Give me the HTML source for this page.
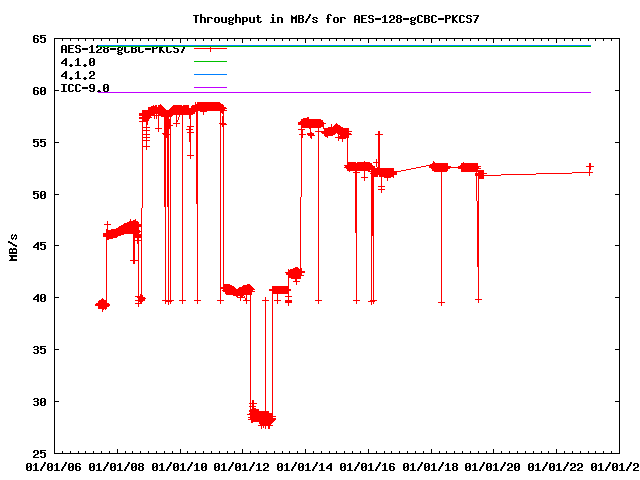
<!DOCTYPE html>
<html><head><meta charset="utf-8"><title>Throughput in MB/s for AES-128-gCBC-PKCS7</title>
<style>html,body{margin:0;padding:0;background:#fff;font-family:"Liberation Sans",sans-serif;}svg{display:block}</style>
</head><body><svg role="img" aria-label="Throughput in MB/s for AES-128-gCBC-PKCS7" width="640" height="480" viewBox="0 0 640 480" shape-rendering="crispEdges"><path fill="#000000" d="M8 241h2v2h-2zM9 249h1v5h-1zM9 255h8v1h-8zM9 260h8v1h-8zM10 242h2v2h-2zM10 248h2v2h-2zM10 252h7v2h-7zM10 256h7v1h-7zM10 259h7v1h-7zM11 235h1v4h-1zM11 257h2v2h-2zM12 234h1v2h-1zM12 238h1v2h-1zM12 243h1v2h-1zM12 249h1v3h-1zM13 237h1v2h-1zM13 244h2v2h-2zM13 248h3v2h-3zM14 235h1v2h-1zM15 234h1v2h-1zM15 238h1v2h-1zM15 245h2v2h-2zM16 235h1v4h-1zM16 249h1v3h-1zM26 464h2v6h-2zM27 463h4v1h-4zM27 470h4v1h-4zM28 467h1v1h-1zM29 466h3v1h-3zM30 464h2v2h-2zM30 467h2v3h-2zM33 36h2v6h-2zM33 88h2v6h-2zM33 139h2v4h-2zM33 145h2v1h-2zM33 191h2v4h-2zM33 197h2v1h-2zM33 246h2v2h-2zM33 298h2v2h-2zM33 347h2v1h-2zM33 352h2v1h-2zM33 399h2v1h-2zM33 404h2v1h-2zM33 451h2v2h-2zM33 456h2v2h-2zM33 465h1v1h-1zM33 470h6v1h-6zM34 35h4v1h-4zM34 42h4v1h-4zM34 87h4v1h-4zM34 94h4v1h-4zM34 146h4v1h-4zM34 198h4v1h-4zM34 245h2v1h-2zM34 297h2v1h-2zM34 346h4v1h-4zM34 349h4v1h-4zM34 353h4v1h-4zM34 398h4v1h-4zM34 401h4v1h-4zM34 405h4v1h-4zM34 450h4v1h-4zM34 455h2v1h-2zM34 464h3v1h-3zM35 38h3v1h-3zM35 90h3v1h-3zM35 139h4v1h-4zM35 141h3v1h-3zM35 191h4v1h-4zM35 193h3v1h-3zM35 244h4v1h-4zM35 247h4v1h-4zM35 296h4v1h-4zM35 299h4v1h-4zM35 454h3v1h-3zM35 457h4v1h-4zM35 463h2v1h-2zM35 465h2v5h-2zM36 243h3v1h-3zM36 295h3v1h-3zM37 36h2v1h-2zM37 39h2v3h-2zM37 88h2v1h-2zM37 91h2v3h-2zM37 142h2v4h-2zM37 194h2v4h-2zM37 242h2v1h-2zM37 245h2v2h-2zM37 248h2v2h-2zM37 294h2v1h-2zM37 297h2v2h-2zM37 300h2v2h-2zM37 347h2v2h-2zM37 350h2v3h-2zM37 399h2v2h-2zM37 402h2v3h-2zM37 451h2v3h-2zM40 35h2v4h-2zM40 41h2v1h-2zM40 88h2v6h-2zM40 139h2v4h-2zM40 145h2v1h-2zM40 192h2v6h-2zM40 242h2v4h-2zM40 248h2v1h-2zM40 295h2v6h-2zM40 346h2v4h-2zM40 352h2v1h-2zM40 399h2v6h-2zM40 450h2v4h-2zM40 456h2v1h-2zM40 469h2v2h-2zM41 42h4v1h-4zM41 87h4v1h-4zM41 94h4v1h-4zM41 146h4v1h-4zM41 191h4v1h-4zM41 198h4v1h-4zM41 249h4v1h-4zM41 294h4v1h-4zM41 301h4v1h-4zM41 353h4v1h-4zM41 398h4v1h-4zM41 405h4v1h-4zM41 457h4v1h-4zM41 467h2v2h-2zM42 35h4v1h-4zM42 37h3v1h-3zM42 91h1v1h-1zM42 139h4v1h-4zM42 141h3v1h-3zM42 195h1v1h-1zM42 242h4v1h-4zM42 244h3v1h-3zM42 298h1v1h-1zM42 346h4v1h-4zM42 348h3v1h-3zM42 402h1v1h-1zM42 450h4v1h-4zM42 452h3v1h-3zM42 466h2v1h-2zM43 90h3v1h-3zM43 194h3v1h-3zM43 297h3v1h-3zM43 401h3v1h-3zM43 464h2v2h-2zM44 38h2v4h-2zM44 88h2v2h-2zM44 91h2v3h-2zM44 142h2v4h-2zM44 192h2v2h-2zM44 195h2v3h-2zM44 245h2v4h-2zM44 295h2v2h-2zM44 298h2v3h-2zM44 349h2v4h-2zM44 399h2v2h-2zM44 402h2v3h-2zM44 453h2v4h-2zM44 462h2v2h-2zM47 464h2v6h-2zM48 463h4v1h-4zM48 470h4v1h-4zM49 467h1v1h-1zM50 466h3v1h-3zM51 464h2v2h-2zM51 467h2v3h-2zM54 38h1v416h-1zM54 465h1v1h-1zM54 470h6v1h-6zM55 38h565v1h-565zM55 90h4v1h-4zM55 142h4v1h-4zM55 194h4v1h-4zM55 245h4v1h-4zM55 297h4v1h-4zM55 349h4v1h-4zM55 401h4v1h-4zM55 453h565v1h-565zM55 464h3v1h-3zM56 463h2v1h-2zM56 465h2v5h-2zM61 46h2v7h-2zM61 62h2v2h-2zM61 75h2v2h-2zM61 84h6v1h-6zM61 91h6v1h-6zM61 469h2v2h-2zM62 39h1v2h-1zM62 45h4v1h-4zM62 61h2v1h-2zM62 74h2v1h-2zM62 451h1v2h-1zM62 467h2v2h-2zM63 49h4v1h-4zM63 60h4v1h-4zM63 63h4v1h-4zM63 73h4v1h-4zM63 76h4v1h-4zM63 85h2v6h-2zM63 466h2v1h-2zM64 59h3v1h-3zM64 72h3v1h-3zM64 464h2v2h-2zM65 46h2v3h-2zM65 50h2v3h-2zM65 58h2v1h-2zM65 61h2v2h-2zM65 64h2v2h-2zM65 71h2v1h-2zM65 74h2v2h-2zM65 77h2v2h-2zM65 462h2v2h-2zM68 45h2v8h-2zM68 85h2v6h-2zM68 464h2v6h-2zM69 65h4v1h-4zM69 78h4v1h-4zM69 84h4v1h-4zM69 91h4v1h-4zM69 463h4v1h-4zM69 470h4v1h-4zM70 39h1v2h-1zM70 45h4v1h-4zM70 48h3v1h-3zM70 52h4v1h-4zM70 64h2v1h-2zM70 66h2v1h-2zM70 77h2v1h-2zM70 79h2v1h-2zM70 451h1v2h-1zM70 467h1v1h-1zM71 466h3v1h-3zM72 85h2v1h-2zM72 90h2v1h-2zM72 464h2v2h-2zM72 467h2v3h-2zM75 46h2v2h-2zM75 51h2v1h-2zM75 60h1v1h-1zM75 65h6v1h-6zM75 73h1v1h-1zM75 78h6v1h-6zM75 85h2v6h-2zM75 464h2v6h-2zM76 45h4v1h-4zM76 48h4v1h-4zM76 52h4v1h-4zM76 59h3v1h-3zM76 72h3v1h-3zM76 84h4v1h-4zM76 91h4v1h-4zM76 463h4v1h-4zM76 470h4v1h-4zM77 58h2v1h-2zM77 60h2v5h-2zM77 71h2v1h-2zM77 73h2v5h-2zM77 466h3v1h-3zM78 39h1v2h-1zM78 451h1v2h-1zM79 46h2v1h-2zM79 49h2v3h-2zM79 85h2v1h-2zM79 90h2v1h-2zM79 464h2v1h-2zM79 467h2v3h-2zM82 48h6v2h-6zM82 87h6v2h-6zM83 65h4v1h-4zM83 78h4v1h-4zM84 64h2v1h-2zM84 66h2v1h-2zM84 77h2v1h-2zM84 79h2v1h-2zM85 39h1v2h-1zM85 451h1v2h-1zM89 47h1v1h-1zM89 52h6v1h-6zM89 59h2v6h-2zM89 72h2v2h-2zM89 77h2v2h-2zM89 85h2v3h-2zM89 90h2v1h-2zM89 464h2v6h-2zM90 46h3v1h-3zM90 58h4v1h-4zM90 65h4v1h-4zM90 71h4v1h-4zM90 76h2v1h-2zM90 84h4v1h-4zM90 88h5v1h-5zM90 91h4v1h-4zM90 463h4v1h-4zM90 470h4v1h-4zM91 45h2v1h-2zM91 47h2v5h-2zM91 62h1v1h-1zM91 75h3v1h-3zM91 78h4v1h-4zM91 467h1v1h-1zM92 61h3v1h-3zM92 466h3v1h-3zM93 39h1v2h-1zM93 59h2v2h-2zM93 62h2v3h-2zM93 72h2v3h-2zM93 85h2v3h-2zM93 89h2v2h-2zM93 451h1v2h-1zM93 464h2v2h-2zM93 467h2v3h-2zM96 46h2v2h-2zM96 51h2v2h-2zM96 465h1v1h-1zM96 470h6v1h-6zM97 45h1v1h-1zM97 50h2v1h-2zM97 91h4v1h-4zM97 464h3v1h-3zM98 49h3v1h-3zM98 52h4v1h-4zM98 90h2v1h-2zM98 463h2v1h-2zM98 465h2v5h-2zM100 47h2v2h-2zM101 39h1v2h-1zM101 451h1v2h-1zM103 47h2v1h-2zM103 49h2v3h-2zM103 85h2v6h-2zM103 469h2v2h-2zM104 48h4v1h-4zM104 52h4v1h-4zM104 84h4v1h-4zM104 91h4v1h-4zM104 467h2v2h-2zM105 88h1v1h-1zM105 466h2v1h-2zM106 87h3v1h-3zM106 464h2v2h-2zM107 47h2v1h-2zM107 49h2v3h-2zM107 85h2v2h-2zM107 88h2v3h-2zM107 462h2v2h-2zM109 39h1v2h-1zM109 451h1v2h-1zM110 48h6v2h-6zM110 464h2v6h-2zM111 463h4v1h-4zM111 470h4v1h-4zM112 467h1v1h-1zM113 466h3v1h-3zM114 464h2v2h-2zM114 467h2v3h-2zM117 39h1v4h-1zM117 48h2v2h-2zM117 51h2v1h-2zM117 53h2v1h-2zM117 449h1v4h-1zM117 465h1v1h-1zM117 470h6v1h-6zM118 47h3v1h-3zM118 50h4v1h-4zM118 52h4v1h-4zM118 54h4v1h-4zM118 464h3v1h-3zM119 463h2v1h-2zM119 465h2v5h-2zM121 48h2v2h-2zM121 53h2v1h-2zM122 47h1v1h-1zM124 47h2v5h-2zM124 469h2v2h-2zM125 39h1v2h-1zM125 52h4v1h-4zM125 451h1v2h-1zM125 467h2v2h-2zM126 466h2v1h-2zM127 464h2v2h-2zM128 51h2v1h-2zM128 462h2v2h-2zM131 47h2v6h-2zM131 464h2v6h-2zM132 39h1v2h-1zM132 451h1v2h-1zM132 463h4v1h-4zM132 470h4v1h-4zM133 48h3v1h-3zM133 52h3v1h-3zM133 467h1v1h-1zM134 466h3v1h-3zM135 47h2v1h-2zM135 49h2v3h-2zM135 464h2v2h-2zM135 467h2v3h-2zM138 47h2v5h-2zM138 464h2v2h-2zM138 467h2v3h-2zM139 52h4v1h-4zM139 463h4v1h-4zM139 466h4v1h-4zM139 470h4v1h-4zM140 39h1v2h-1zM140 451h1v2h-1zM142 51h2v1h-2zM142 464h2v2h-2zM142 467h2v3h-2zM145 48h6v2h-6zM148 39h1v2h-1zM148 451h1v2h-1zM152 47h2v6h-2zM152 464h2v6h-2zM153 463h4v1h-4zM153 470h4v1h-4zM154 48h3v1h-3zM154 467h1v1h-1zM155 466h3v1h-3zM156 39h1v2h-1zM156 47h2v1h-2zM156 451h1v2h-1zM156 464h2v2h-2zM156 467h2v3h-2zM159 47h2v6h-2zM159 465h1v1h-1zM159 470h6v1h-6zM160 464h3v1h-3zM161 47h1v4h-1zM161 463h2v1h-2zM161 465h2v5h-2zM162 47h1v1h-1zM162 50h1v2h-1zM163 51h1v2h-1zM164 39h1v2h-1zM164 52h1v1h-1zM164 451h1v2h-1zM166 47h2v5h-2zM166 469h2v2h-2zM167 52h4v1h-4zM167 467h2v2h-2zM168 466h2v1h-2zM169 464h2v2h-2zM170 51h2v1h-2zM170 462h2v2h-2zM172 39h1v2h-1zM172 451h1v2h-1zM173 47h2v1h-2zM173 51h2v1h-2zM173 464h2v6h-2zM174 48h4v1h-4zM174 52h4v1h-4zM174 463h4v1h-4zM174 470h4v1h-4zM175 467h1v1h-1zM176 466h3v1h-3zM177 49h2v3h-2zM177 464h2v2h-2zM177 467h2v3h-2zM180 39h1v4h-1zM180 449h1v4h-1zM180 465h1v1h-1zM180 470h6v1h-6zM181 51h2v2h-2zM181 464h3v1h-3zM182 49h2v2h-2zM182 463h2v1h-2zM182 465h2v5h-2zM183 47h2v2h-2zM187 39h1v2h-1zM187 451h1v2h-1zM187 469h2v2h-2zM188 467h2v2h-2zM189 466h2v1h-2zM190 464h2v2h-2zM191 462h2v2h-2zM193 15h6v1h-6zM194 465h1v1h-1zM194 470h6v1h-6zM195 16h2v7h-2zM195 39h1v2h-1zM195 451h1v2h-1zM195 464h3v1h-3zM196 463h2v1h-2zM196 465h2v5h-2zM200 14h2v9h-2zM201 464h2v6h-2zM202 17h3v1h-3zM202 463h4v1h-4zM202 470h4v1h-4zM203 39h1v2h-1zM203 451h1v2h-1zM203 467h1v1h-1zM204 18h2v5h-2zM204 466h3v1h-3zM205 464h2v2h-2zM205 467h2v3h-2zM207 17h2v6h-2zM209 17h3v1h-3zM211 18h2v1h-2zM211 39h1v2h-1zM211 451h1v2h-1zM214 18h2v4h-2zM214 464h2v6h-2zM215 17h4v1h-4zM215 22h4v1h-4zM215 463h4v1h-4zM215 470h4v1h-4zM216 467h1v1h-1zM217 466h3v1h-3zM218 18h2v4h-2zM218 464h2v2h-2zM218 467h2v3h-2zM219 39h1v2h-1zM219 451h1v2h-1zM221 17h2v5h-2zM221 465h1v1h-1zM221 470h6v1h-6zM222 22h5v1h-5zM222 464h3v1h-3zM223 463h2v1h-2zM223 465h2v5h-2zM225 17h2v5h-2zM227 39h1v2h-1zM227 451h1v2h-1zM228 18h2v2h-2zM228 21h2v1h-2zM228 23h2v1h-2zM228 469h2v2h-2zM229 17h3v1h-3zM229 20h4v1h-4zM229 22h4v1h-4zM229 24h4v1h-4zM229 467h2v2h-2zM230 466h2v1h-2zM231 464h2v2h-2zM232 18h2v2h-2zM232 23h2v1h-2zM232 462h2v2h-2zM233 17h1v1h-1zM234 39h1v2h-1zM234 451h1v2h-1zM235 14h2v9h-2zM235 464h2v6h-2zM236 463h4v1h-4zM236 470h4v1h-4zM237 17h3v1h-3zM237 467h1v1h-1zM238 466h3v1h-3zM239 18h2v5h-2zM239 464h2v2h-2zM239 467h2v3h-2zM242 17h2v8h-2zM242 39h1v4h-1zM242 449h1v4h-1zM242 465h1v1h-1zM242 470h6v1h-6zM243 464h3v1h-3zM244 17h3v1h-3zM244 21h3v1h-3zM244 463h2v1h-2zM244 465h2v5h-2zM246 18h2v3h-2zM249 17h2v5h-2zM249 469h2v2h-2zM250 22h5v1h-5zM250 39h1v2h-1zM250 451h1v2h-1zM250 467h2v2h-2zM251 466h2v1h-2zM252 464h2v2h-2zM253 17h2v5h-2zM253 462h2v2h-2zM256 17h5v1h-5zM256 465h1v1h-1zM256 470h6v1h-6zM257 15h2v2h-2zM257 18h2v4h-2zM257 464h3v1h-3zM258 22h3v1h-3zM258 39h1v2h-1zM258 451h1v2h-1zM258 463h2v1h-2zM258 465h2v5h-2zM260 21h2v1h-2zM263 464h2v2h-2zM263 469h2v2h-2zM264 463h4v1h-4zM264 468h2v1h-2zM265 467h3v1h-3zM265 470h4v1h-4zM266 39h1v2h-1zM266 451h1v2h-1zM267 464h2v3h-2zM270 22h6v1h-6zM271 17h3v1h-3zM272 14h2v2h-2zM272 18h2v4h-2zM274 39h1v2h-1zM274 451h1v2h-1zM277 17h2v6h-2zM277 464h2v6h-2zM278 463h4v1h-4zM278 470h4v1h-4zM279 17h3v1h-3zM279 467h1v1h-1zM280 466h3v1h-3zM281 18h2v5h-2zM281 464h2v2h-2zM281 467h2v3h-2zM282 39h1v2h-1zM282 451h1v2h-1zM284 465h1v1h-1zM284 470h6v1h-6zM285 464h3v1h-3zM286 463h2v1h-2zM286 465h2v5h-2zM289 39h1v2h-1zM289 451h1v2h-1zM291 15h1v8h-1zM291 469h2v2h-2zM292 16h1v7h-1zM292 467h2v2h-2zM293 17h4v2h-4zM293 466h2v1h-2zM294 464h2v2h-2zM295 16h2v1h-2zM295 19h2v4h-2zM295 462h2v2h-2zM296 15h1v1h-1zM297 39h1v2h-1zM297 451h1v2h-1zM298 15h2v8h-2zM298 464h2v6h-2zM299 463h4v1h-4zM299 470h4v1h-4zM300 15h3v1h-3zM300 18h3v1h-3zM300 22h3v1h-3zM300 467h1v1h-1zM301 466h3v1h-3zM302 16h2v2h-2zM302 19h2v3h-2zM302 464h2v2h-2zM302 467h2v3h-2zM305 21h2v2h-2zM305 39h1v4h-1zM305 449h1v4h-1zM305 465h1v1h-1zM305 470h6v1h-6zM306 19h2v2h-2zM306 464h3v1h-3zM307 18h2v1h-2zM307 463h2v1h-2zM307 465h2v5h-2zM308 16h2v2h-2zM309 14h2v2h-2zM312 18h2v1h-2zM312 21h2v1h-2zM312 469h2v2h-2zM313 17h4v1h-4zM313 19h2v1h-2zM313 22h4v1h-4zM313 39h1v2h-1zM313 451h1v2h-1zM313 467h2v2h-2zM314 466h2v1h-2zM315 20h2v1h-2zM315 464h2v2h-2zM316 18h2v1h-2zM316 21h2v1h-2zM316 462h2v2h-2zM319 465h1v1h-1zM319 470h6v1h-6zM320 464h3v1h-3zM321 39h1v2h-1zM321 451h1v2h-1zM321 463h2v1h-2zM321 465h2v5h-2zM326 18h4v1h-4zM326 467h2v2h-2zM327 15h2v3h-2zM327 19h2v4h-2zM327 466h2v1h-2zM328 14h3v1h-3zM328 465h4v1h-4zM328 468h4v1h-4zM329 39h1v2h-1zM329 451h1v2h-1zM329 464h3v1h-3zM330 15h2v1h-2zM330 463h2v1h-2zM330 466h2v2h-2zM330 469h2v2h-2zM333 18h2v4h-2zM334 17h4v1h-4zM334 22h4v1h-4zM336 39h1v2h-1zM336 451h1v2h-1zM337 18h2v4h-2zM340 17h2v6h-2zM340 464h2v6h-2zM341 463h4v1h-4zM341 470h4v1h-4zM342 17h3v1h-3zM342 467h1v1h-1zM343 466h3v1h-3zM344 18h2v1h-2zM344 39h1v2h-1zM344 451h1v2h-1zM344 464h2v2h-2zM344 467h2v3h-2zM347 465h1v1h-1zM347 470h6v1h-6zM348 464h3v1h-3zM349 463h2v1h-2zM349 465h2v5h-2zM352 39h1v2h-1zM352 451h1v2h-1zM354 16h2v7h-2zM354 469h2v2h-2zM355 15h4v1h-4zM355 467h2v2h-2zM356 19h4v1h-4zM356 466h2v1h-2zM357 464h2v2h-2zM358 16h2v3h-2zM358 20h2v3h-2zM358 462h2v2h-2zM360 39h1v2h-1zM360 451h1v2h-1zM361 15h2v8h-2zM361 464h2v6h-2zM362 463h4v1h-4zM362 470h4v1h-4zM363 15h4v1h-4zM363 18h3v1h-3zM363 22h4v1h-4zM363 467h1v1h-1zM364 466h3v1h-3zM365 464h2v2h-2zM365 467h2v3h-2zM368 16h2v2h-2zM368 21h2v1h-2zM368 39h1v4h-1zM368 449h1v4h-1zM368 465h1v1h-1zM368 470h6v1h-6zM369 15h4v1h-4zM369 18h4v1h-4zM369 22h4v1h-4zM369 464h3v1h-3zM370 463h2v1h-2zM370 465h2v5h-2zM372 16h2v1h-2zM372 19h2v3h-2zM375 18h6v2h-6zM375 469h2v2h-2zM376 39h1v2h-1zM376 451h1v2h-1zM376 467h2v2h-2zM377 466h2v1h-2zM378 464h2v2h-2zM379 462h2v2h-2zM382 17h1v1h-1zM382 22h6v1h-6zM382 465h1v1h-1zM382 470h6v1h-6zM383 16h3v1h-3zM383 464h3v1h-3zM384 15h2v1h-2zM384 17h2v5h-2zM384 39h1v2h-1zM384 451h1v2h-1zM384 463h2v1h-2zM384 465h2v5h-2zM389 16h2v2h-2zM389 21h2v2h-2zM389 464h2v6h-2zM390 15h4v1h-4zM390 20h2v1h-2zM390 463h4v1h-4zM390 470h4v1h-4zM391 19h3v1h-3zM391 22h4v1h-4zM391 39h1v2h-1zM391 451h1v2h-1zM391 466h3v1h-3zM393 16h2v3h-2zM393 464h2v1h-2zM393 467h2v3h-2zM396 16h2v2h-2zM396 19h2v3h-2zM397 15h4v1h-4zM397 18h4v1h-4zM397 22h4v1h-4zM399 39h1v2h-1zM399 451h1v2h-1zM400 16h2v2h-2zM400 19h2v3h-2zM403 18h6v2h-6zM403 464h2v6h-2zM404 463h4v1h-4zM404 470h4v1h-4zM405 467h1v1h-1zM406 466h3v1h-3zM407 39h1v2h-1zM407 451h1v2h-1zM407 464h2v2h-2zM407 467h2v3h-2zM410 18h2v2h-2zM410 21h2v1h-2zM410 23h2v1h-2zM410 465h1v1h-1zM410 470h6v1h-6zM411 17h3v1h-3zM411 20h4v1h-4zM411 22h4v1h-4zM411 24h4v1h-4zM411 464h3v1h-3zM412 463h2v1h-2zM412 465h2v5h-2zM414 18h2v2h-2zM414 23h2v1h-2zM415 17h1v1h-1zM415 39h1v2h-1zM415 451h1v2h-1zM417 16h2v6h-2zM417 469h2v2h-2zM418 15h4v1h-4zM418 22h4v1h-4zM418 467h2v2h-2zM419 466h2v1h-2zM420 464h2v2h-2zM421 16h2v1h-2zM421 21h2v1h-2zM421 462h2v2h-2zM423 39h1v2h-1zM423 451h1v2h-1zM424 15h2v8h-2zM424 464h2v6h-2zM425 463h4v1h-4zM425 470h4v1h-4zM426 15h3v1h-3zM426 18h3v1h-3zM426 22h3v1h-3zM426 467h1v1h-1zM427 466h3v1h-3zM428 16h2v2h-2zM428 19h2v3h-2zM428 464h2v2h-2zM428 467h2v3h-2zM431 16h2v6h-2zM431 39h1v4h-1zM431 449h1v4h-1zM431 465h1v1h-1zM431 470h6v1h-6zM432 15h4v1h-4zM432 22h4v1h-4zM432 464h3v1h-3zM433 463h2v1h-2zM433 465h2v5h-2zM435 16h2v1h-2zM435 21h2v1h-2zM438 18h6v2h-6zM438 469h2v2h-2zM439 39h1v2h-1zM439 451h1v2h-1zM439 467h2v2h-2zM440 466h2v1h-2zM441 464h2v2h-2zM442 462h2v2h-2zM445 15h2v8h-2zM445 465h1v1h-1zM445 470h6v1h-6zM446 39h1v2h-1zM446 451h1v2h-1zM446 464h3v1h-3zM447 15h3v1h-3zM447 18h3v1h-3zM447 463h2v1h-2zM447 465h2v5h-2zM449 16h2v2h-2zM452 15h2v8h-2zM452 464h2v2h-2zM452 467h2v3h-2zM453 463h4v1h-4zM453 466h4v1h-4zM453 470h4v1h-4zM454 17h1v4h-1zM454 39h1v2h-1zM454 451h1v2h-1zM455 16h1v2h-1zM455 20h1v2h-1zM456 15h1v2h-1zM456 21h1v2h-1zM456 464h2v2h-2zM456 467h2v3h-2zM457 15h1v1h-1zM457 22h1v1h-1zM459 16h2v6h-2zM460 15h4v1h-4zM460 22h4v1h-4zM462 39h1v2h-1zM462 451h1v2h-1zM463 16h2v1h-2zM463 21h2v1h-2zM465 464h2v6h-2zM466 16h2v2h-2zM466 21h2v1h-2zM466 463h4v1h-4zM466 470h4v1h-4zM467 15h4v1h-4zM467 18h4v1h-4zM467 22h4v1h-4zM467 467h1v1h-1zM468 466h3v1h-3zM469 464h2v2h-2zM469 467h2v3h-2zM470 16h2v1h-2zM470 19h2v3h-2zM470 39h1v2h-1zM470 451h1v2h-1zM472 465h1v1h-1zM472 470h6v1h-6zM473 15h6v1h-6zM473 464h3v1h-3zM474 21h2v2h-2zM474 463h2v1h-2zM474 465h2v5h-2zM475 19h2v2h-2zM476 17h2v2h-2zM477 16h2v1h-2zM478 39h1v2h-1zM478 451h1v2h-1zM479 469h2v2h-2zM480 467h2v2h-2zM481 466h2v1h-2zM482 464h2v2h-2zM483 462h2v2h-2zM486 39h1v2h-1zM486 451h1v2h-1zM486 464h2v6h-2zM487 463h4v1h-4zM487 470h4v1h-4zM488 467h1v1h-1zM489 466h3v1h-3zM490 464h2v2h-2zM490 467h2v3h-2zM493 39h1v4h-1zM493 449h1v4h-1zM493 465h1v1h-1zM493 470h6v1h-6zM494 464h3v1h-3zM495 463h2v1h-2zM495 465h2v5h-2zM500 469h2v2h-2zM501 39h1v2h-1zM501 451h1v2h-1zM501 467h2v2h-2zM502 466h2v1h-2zM503 464h2v2h-2zM504 462h2v2h-2zM507 464h2v2h-2zM507 469h2v2h-2zM508 463h4v1h-4zM508 468h2v1h-2zM509 39h1v2h-1zM509 451h1v2h-1zM509 467h3v1h-3zM509 470h4v1h-4zM511 464h2v3h-2zM514 464h2v6h-2zM515 463h4v1h-4zM515 470h4v1h-4zM516 467h1v1h-1zM517 39h1v2h-1zM517 451h1v2h-1zM517 466h3v1h-3zM518 464h2v2h-2zM518 467h2v3h-2zM525 39h1v2h-1zM525 451h1v2h-1zM528 464h2v6h-2zM529 463h4v1h-4zM529 470h4v1h-4zM530 467h1v1h-1zM531 466h3v1h-3zM532 464h2v2h-2zM532 467h2v3h-2zM533 39h1v2h-1zM533 451h1v2h-1zM535 465h1v1h-1zM535 470h6v1h-6zM536 464h3v1h-3zM537 463h2v1h-2zM537 465h2v5h-2zM541 39h1v2h-1zM541 451h1v2h-1zM542 469h2v2h-2zM543 467h2v2h-2zM544 466h2v1h-2zM545 464h2v2h-2zM546 462h2v2h-2zM548 39h1v2h-1zM548 451h1v2h-1zM549 464h2v6h-2zM550 463h4v1h-4zM550 470h4v1h-4zM551 467h1v1h-1zM552 466h3v1h-3zM553 464h2v2h-2zM553 467h2v3h-2zM556 39h1v4h-1zM556 449h1v4h-1zM556 465h1v1h-1zM556 470h6v1h-6zM557 464h3v1h-3zM558 463h2v1h-2zM558 465h2v5h-2zM563 469h2v2h-2zM564 39h1v2h-1zM564 451h1v2h-1zM564 467h2v2h-2zM565 466h2v1h-2zM566 464h2v2h-2zM567 462h2v2h-2zM570 464h2v2h-2zM570 469h2v2h-2zM571 463h4v1h-4zM571 468h2v1h-2zM572 39h1v2h-1zM572 451h1v2h-1zM572 467h3v1h-3zM572 470h4v1h-4zM574 464h2v3h-2zM577 464h2v2h-2zM577 469h2v2h-2zM578 463h4v1h-4zM578 468h2v1h-2zM579 467h3v1h-3zM579 470h4v1h-4zM580 39h1v2h-1zM580 451h1v2h-1zM581 464h2v3h-2zM588 39h1v2h-1zM588 451h1v2h-1zM591 464h2v6h-2zM592 463h4v1h-4zM592 470h4v1h-4zM593 467h1v1h-1zM594 466h3v1h-3zM595 39h1v2h-1zM595 451h1v2h-1zM595 464h2v2h-2zM595 467h2v3h-2zM598 465h1v1h-1zM598 470h6v1h-6zM599 464h3v1h-3zM600 463h2v1h-2zM600 465h2v5h-2zM603 39h1v2h-1zM603 451h1v2h-1zM605 469h2v2h-2zM606 467h2v2h-2zM607 466h2v1h-2zM608 464h2v2h-2zM609 462h2v2h-2zM611 39h1v2h-1zM611 451h1v2h-1zM612 464h2v6h-2zM613 463h4v1h-4zM613 470h4v1h-4zM614 467h1v1h-1zM615 90h5v1h-5zM615 142h5v1h-5zM615 194h5v1h-5zM615 245h5v1h-5zM615 297h5v1h-5zM615 349h5v1h-5zM615 401h5v1h-5zM615 466h3v1h-3zM616 464h2v2h-2zM616 467h2v3h-2zM619 39h1v51h-1zM619 91h1v51h-1zM619 143h1v51h-1zM619 195h1v50h-1zM619 246h1v51h-1zM619 298h1v51h-1zM619 350h1v51h-1zM619 402h1v51h-1zM619 465h1v1h-1zM619 470h6v1h-6zM620 464h3v1h-3zM621 463h2v1h-2zM621 465h2v5h-2zM626 469h2v2h-2zM627 467h2v2h-2zM628 466h2v1h-2zM629 464h2v2h-2zM630 462h2v2h-2zM633 464h2v2h-2zM633 469h2v2h-2zM634 463h4v1h-4zM634 468h2v1h-2zM635 467h3v1h-3zM635 470h4v1h-4zM637 464h2v3h-2z"/><path fill="#ff0000" d="M210 47h1v5h-1zM194 48h16v1h-16zM211 48h16v1h-16zM195 102h1v10h-1zM197 102h23v9h-23zM220 103h1v201h-1zM160 104h1v12h-1zM196 104h1v100h-1zM221 104h2v9h-2zM153 105h1v11h-1zM155 105h2v9h-2zM158 105h2v11h-2zM161 105h1v12h-1zM173 105h9v10h-9zM183 105h6v10h-6zM192 105h3v9h-3zM223 105h1v187h-1zM151 106h2v10h-2zM154 106h1v13h-1zM162 106h1v11h-1zM172 106h1v10h-1zM182 106h1v198h-1zM191 106h1v9h-1zM148 107h3v11h-3zM157 107h1v7h-1zM163 107h1v10h-1zM171 107h1v10h-1zM224 107h2v2h-2zM164 108h1v99h-1zM170 108h1v196h-1zM189 108h2v11h-2zM226 108h1v1h-1zM165 109h1v195h-1zM169 109h1v8h-1zM224 109h1v2h-1zM142 110h6v12h-6zM166 110h3v28h-3zM225 110h2v1h-2zM197 111h1v193h-1zM200 111h7v1h-7zM203 112h1v3h-1zM139 113h3v3h-3zM222 113h1v1h-1zM156 114h1v5h-1zM192 114h1v1h-1zM155 115h1v1h-1zM157 115h1v1h-1zM176 115h1v12h-1zM179 115h1v2h-1zM158 116h1v16h-1zM222 116h1v11h-1zM139 117h3v2h-3zM151 117h1v1h-1zM178 117h1v3h-1zM307 117h2v11h-2zM148 118h2v1h-2zM303 118h4v10h-4zM148 119h1v2h-1zM169 119h1v10h-1zM190 119h1v40h-1zM301 119h2v9h-2zM309 119h12v9h-12zM177 120h1v2h-1zM321 120h2v7h-2zM139 121h3v1h-3zM300 121h1v4h-1zM142 122h1v86h-1zM146 122h2v3h-2zM298 122h2v3h-2zM323 122h1v7h-1zM173 123h3v1h-3zM177 123h3v1h-3zM219 123h1v1h-1zM221 123h1v2h-1zM224 123h2v2h-2zM324 123h2v1h-2zM336 123h1v10h-1zM226 124h1v1h-1zM331 124h1v12h-1zM335 124h1v10h-1zM337 124h1v10h-1zM146 125h1v25h-1zM171 125h2v1h-2zM334 125h1v10h-1zM338 125h2v10h-2zM187 126h3v1h-3zM191 126h3v1h-3zM333 126h1v9h-1zM340 126h1v13h-1zM143 127h3v1h-3zM147 127h3v1h-3zM189 127h1v15h-1zM328 127h3v9h-3zM332 127h1v9h-1zM341 127h2v12h-2zM155 128h3v1h-3zM159 128h3v1h-3zM301 128h1v69h-1zM309 128h2v1h-2zM318 128h1v176h-1zM324 128h4v8h-4zM343 128h6v10h-6zM186 129h3v1h-3zM191 129h2v1h-2zM298 129h3v1h-3zM302 129h3v1h-3zM310 129h1v9h-1zM143 130h3v1h-3zM147 130h3v1h-3zM302 130h1v8h-1zM315 131h3v1h-3zM319 131h5v1h-5zM349 131h3v1h-3zM378 131h2v44h-2zM187 132h2v1h-2zM191 132h3v1h-3zM311 132h1v7h-1zM321 132h3v1h-3zM162 133h2v1h-2zM307 133h3v2h-3zM312 133h2v3h-2zM322 133h2v1h-2zM349 133h2v2h-2zM143 134h3v1h-3zM147 134h3v1h-3zM163 134h1v1h-1zM169 134h1v1h-1zM299 134h2v1h-2zM303 134h3v1h-3zM351 134h1v1h-1zM375 134h3v1h-3zM380 134h3v1h-3zM308 135h2v1h-2zM314 135h1v1h-1zM338 135h1v6h-1zM325 136h3v1h-3zM339 136h1v3h-1zM143 137h3v1h-3zM147 137h3v1h-3zM327 137h1v1h-1zM335 137h3v1h-3zM167 138h2v69h-2zM343 138h3v1h-3zM347 138h1v33h-1zM342 139h1v3h-1zM143 140h3v1h-3zM147 140h3v1h-3zM143 146h3v1h-3zM147 146h3v1h-3zM187 155h3v1h-3zM191 155h3v1h-3zM376 159h1v8h-1zM364 161h1v20h-1zM433 161h1v10h-1zM348 162h8v9h-8zM357 162h7v9h-7zM365 162h5v9h-5zM373 162h3v1h-3zM377 162h1v1h-1zM434 162h1v10h-1zM463 162h1v10h-1zM356 163h1v141h-1zM370 163h2v7h-2zM432 163h1v8h-1zM435 163h13v8h-13zM461 163h2v9h-2zM464 163h14v9h-14zM589 163h2v7h-2zM430 164h2v4h-2zM344 165h3v1h-3zM372 165h1v71h-1zM426 165h4v1h-4zM460 165h1v4h-1zM345 166h2v2h-2zM373 166h2v11h-2zM421 166h5v1h-5zM429 166h1v2h-1zM448 166h3v2h-3zM458 166h2v3h-2zM478 166h3v1h-3zM586 166h3v1h-3zM591 166h3v1h-3zM344 167h1v1h-1zM377 167h1v10h-1zM416 167h5v1h-5zM451 167h7v1h-7zM478 167h1v2h-1zM346 168h1v1h-1zM375 168h2v9h-2zM380 168h14v9h-14zM411 168h5v1h-5zM431 168h1v1h-1zM448 168h2v1h-2zM479 168h2v1h-2zM406 169h5v1h-5zM371 170h1v135h-1zM401 170h5v1h-5zM478 170h6v9h-6zM589 170h1v6h-1zM349 171h1v1h-1zM355 171h1v62h-1zM368 171h3v1h-3zM394 171h7v1h-7zM435 171h12v1h-12zM353 172h2v1h-2zM357 172h3v1h-3zM394 172h3v3h-3zM441 172h1v134h-1zM476 172h1v29h-1zM572 172h17v1h-17zM590 172h3v1h-3zM370 173h1v1h-1zM475 173h1v3h-1zM477 173h1v3h-1zM484 173h3v1h-3zM536 173h36v1h-36zM501 174h35v1h-35zM379 175h1v2h-1zM484 175h17v1h-17zM361 177h3v1h-3zM365 177h3v1h-3zM373 177h1v127h-1zM381 177h1v16h-1zM384 177h7v1h-7zM393 177h1v1h-1zM387 178h1v3h-1zM478 179h1v124h-1zM378 186h3v1h-3zM382 186h3v1h-3zM378 189h3v1h-3zM382 189h3v1h-3zM300 197h1v82h-1zM477 201h1v66h-1zM168 207h1v98h-1zM141 208h1v96h-1zM130 219h1v15h-1zM135 219h1v19h-1zM133 220h2v44h-2zM107 221h1v19h-1zM129 221h1v13h-1zM131 221h2v13h-2zM136 221h2v17h-2zM127 222h2v12h-2zM138 222h1v85h-1zM124 223h3v11h-3zM104 224h3v1h-3zM108 224h3v1h-3zM123 224h1v11h-1zM139 224h2v3h-2zM121 225h2v10h-2zM119 226h2v10h-2zM118 227h1v9h-1zM116 228h2v9h-2zM106 229h1v80h-1zM111 229h5v9h-5zM108 230h3v9h-3zM139 230h1v3h-1zM140 231h1v1h-1zM103 233h3v4h-3zM139 234h2v4h-2zM116 237h1v1h-1zM111 238h2v1h-2zM137 238h1v6h-1zM108 239h1v1h-1zM135 240h2v1h-2zM139 240h2v1h-2zM130 260h3v1h-3zM135 260h3v1h-3zM295 267h3v12h-3zM293 268h2v11h-2zM298 268h1v11h-1zM301 268h1v8h-1zM288 269h1v37h-1zM290 269h3v9h-3zM299 269h1v10h-1zM289 270h1v8h-1zM302 271h3v2h-3zM285 272h3v1h-3zM286 273h2v2h-2zM302 275h2v1h-2zM291 278h2v1h-2zM295 279h2v3h-2zM293 281h2v1h-2zM297 281h3v1h-3zM296 282h1v3h-1zM224 284h6v8h-6zM247 284h3v11h-3zM230 285h2v10h-2zM243 285h4v10h-4zM250 285h1v135h-1zM232 286h2v9h-2zM242 286h1v12h-1zM251 286h1v9h-1zM272 286h16v8h-16zM221 287h2v2h-2zM234 287h1v9h-1zM239 287h3v9h-3zM252 287h1v5h-1zM235 288h1v8h-1zM238 288h1v8h-1zM253 288h1v2h-1zM236 289h2v8h-2zM254 289h1v1h-1zM269 289h3v2h-3zM289 289h2v2h-2zM222 290h1v1h-1zM253 291h2v1h-2zM225 292h5v2h-5zM140 294h1v10h-1zM226 294h4v1h-4zM272 294h1v129h-1zM277 294h1v10h-1zM142 295h1v7h-1zM233 295h1v1h-1zM243 295h1v1h-1zM246 295h1v9h-1zM135 296h3v1h-3zM139 296h1v6h-1zM240 296h2v2h-2zM244 296h1v2h-1zM285 296h3v1h-3zM289 296h3v1h-3zM137 297h1v1h-1zM143 297h2v4h-2zM237 297h3v1h-3zM243 297h1v1h-1zM265 297h1v132h-1zM102 298h1v14h-1zM145 298h1v1h-1zM240 298h1v3h-1zM245 298h1v3h-1zM101 299h1v10h-1zM103 299h1v11h-1zM475 299h3v1h-3zM479 299h3v1h-3zM99 300h2v9h-2zM104 300h2v9h-2zM135 300h3v1h-3zM162 300h3v1h-3zM166 300h2v2h-2zM169 300h1v2h-1zM171 300h3v1h-3zM179 300h3v1h-3zM183 300h3v1h-3zM194 300h3v1h-3zM198 300h3v1h-3zM217 300h3v1h-3zM221 300h3v1h-3zM243 300h2v1h-2zM247 300h3v1h-3zM262 300h3v1h-3zM266 300h3v1h-3zM274 300h3v1h-3zM278 300h3v1h-3zM285 300h3v3h-3zM289 300h3v3h-3zM315 300h3v1h-3zM319 300h3v1h-3zM353 300h3v1h-3zM357 300h3v1h-3zM370 300h1v2h-1zM372 300h1v2h-1zM374 300h3v1h-3zM98 301h1v8h-1zM171 301h1v1h-1zM368 301h2v1h-2zM374 301h1v1h-1zM438 302h3v1h-3zM442 302h3v1h-3zM96 303h2v3h-2zM107 303h2v4h-2zM135 303h3v1h-3zM139 303h1v1h-1zM95 304h1v2h-1zM109 304h1v2h-1zM105 309h1v1h-1zM252 400h2v22h-2zM249 403h1v1h-1zM251 403h1v1h-1zM254 403h3v1h-3zM249 406h1v1h-1zM251 406h1v1h-1zM254 406h2v1h-2zM254 408h2v14h-2zM251 409h1v14h-1zM256 409h3v13h-3zM249 410h1v2h-1zM259 411h6v13h-6zM266 411h3v15h-3zM249 413h1v2h-1zM269 413h3v11h-3zM247 414h2v1h-2zM273 416h3v1h-3zM248 417h2v1h-2zM273 418h3v2h-3zM248 419h2v1h-2zM273 420h2v1h-2zM273 421h1v1h-1zM252 422h1v1h-1zM260 424h5v2h-5zM269 424h2v2h-2zM258 425h2v1h-2zM271 425h2v1h-2zM261 426h1v3h-1zM263 426h1v2h-1zM268 426h2v3h-2z"/><path fill="#00c000" d="M98 46h493v1h-493zM194 61h33v1h-33z"/><path fill="#0080ff" d="M98 45h493v1h-493zM194 74h33v1h-33z"/><path fill="#c000ff" d="M194 87h33v1h-33zM98 92h493v1h-493z"/></svg></body></html>
